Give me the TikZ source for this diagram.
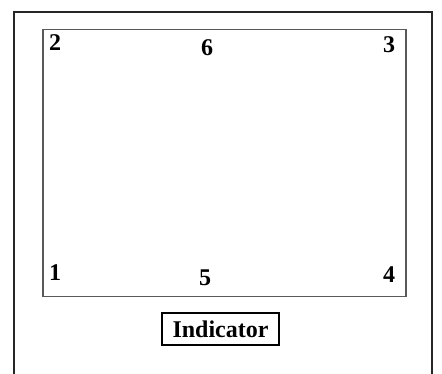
\documentclass[tikz,border=0pt]{standalone}
\usepackage{fontspec}
\setmainfont{Liberation Serif}
\usepackage{tikz}
\usetikzlibrary{positioning}

\begin{document}
\begin{tikzpicture}[x=1pt, y=-1pt,
  num/.style={font=\fontsize{24}{28}\selectfont\bfseries, inner sep=0pt},
  tag/.style={draw, line width=1.2pt, minimum width=117pt, minimum height=32pt,
              inner sep=0pt, font=\fontsize{24}{28}\selectfont\bfseries}]
\useasboundingbox (0,0) rectangle (442,374);
\clip (0,0) rectangle (442,374);
% outer frame, open at the bottom
\coordinate (fbl) at (14,380);
\coordinate (fbr) at (432,380);
\draw[line width=2pt, black!85] (fbl) |- (223,12) -| (fbr);
% inner panel
\node[draw, line width=1.3pt, black!65, minimum width=363pt, minimum height=267pt,
      inner sep=0pt] (panel) at (224.5,163) {};
\node[num] (n2) at (55,43)  {2};
\node[num] (n6) at (207,48) {6};
\node[num] (n3) at (389,45) {3};
\node[num] (n1) at (55,273) {1};
\node[num] (n5) at (205,278) {5};
\node[num] (n4) at (389,275) {4};
\node[tag] (ind) at (220.5,329) {Indicator};
\end{tikzpicture}
\end{document}
